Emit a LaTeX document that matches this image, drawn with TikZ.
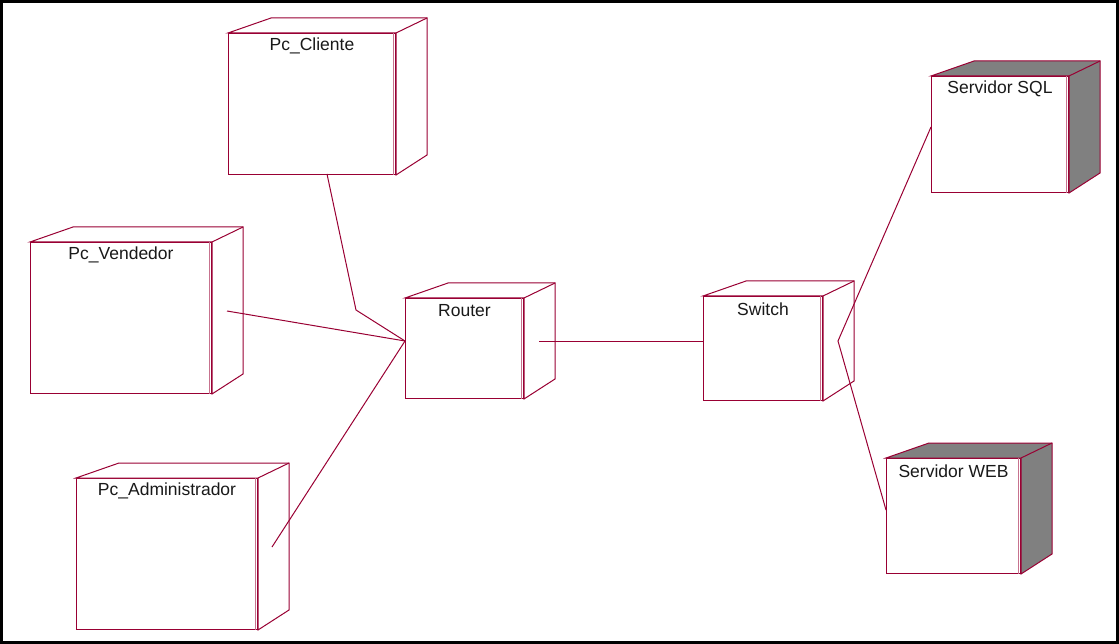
\documentclass[tikz,border=0pt]{standalone}
\usepackage{fontspec}
\setmainfont{Liberation Sans}
\usetikzlibrary{calc}

\definecolor{rose}{RGB}{153,0,51}
\definecolor{shade}{RGB}{128,128,128}

% device node: name, x, y, width, height, text, face fill
\newcommand{\devnode}[7][white]{%
  \node[dev, minimum width=#5pt, minimum height=#6pt] (#2) at (#3,#4) {};
  \filldraw[edge, fill=#1] (#2.north west) -- ++(43,-15)
      -- ($(#2.north east)+(31,-15)$) -- ($(#2.south east)+(31,-20)$)
      -- (#2.south east) -- (#2.north east) -- cycle;
  \draw[edge] (#2.north east) -- ($(#2.north east)+(31,-15)$);
  \draw[edge, draw=rose!55, line width=0.8pt] ([xshift=-2.5pt]#2.north east) -- ([xshift=-2.5pt]#2.south east);
  \node[lbl] at ([yshift=-13pt]#2.north) {#7};
}

\begin{document}
\begin{tikzpicture}[
    x=1pt, y=-1pt,
    edge/.style={draw=rose, line width=1pt, line join=miter},
    dev/.style={edge, fill=white, anchor=north west, inner sep=0pt},
    lbl/.style={font=\fontsize{17.5}{20}\selectfont, text=black!90},
    link/.style={draw=rose, line width=1pt},
]
\useasboundingbox (0,0) rectangle (1119,644);
\draw[line width=3pt] (1.5,1.5) rectangle (1117.5,642.5);

% === Clients ===
\devnode{cliente}{228}{33}{167}{141}{Pc\_Cliente}
\devnode{vendedor}{30}{242}{181}{151}{Pc\_Vendedor}
\devnode{admin}{76}{478}{181}{151}{Pc\_Administrador}

% === Network ===
\devnode{router}{405}{298}{118}{100}{Router}
\devnode{switch}{703}{296}{119}{104}{Switch}

% === Servers ===
\devnode[shade]{sql}{931}{76}{137}{116}{Servidor SQL}
\devnode[shade]{web}{886}{458}{134}{115}{Servidor WEB}

% === Links ===
\coordinate (cliente-out) at (327,174);
\coordinate (cliente-bend) at (356,310);
\coordinate (vendedor-out) at (227,311);
\coordinate (admin-out) at (272,547);
\coordinate (router-in) at (405,341);
\coordinate (router-out) at (539,341);
\coordinate (switch-in) at (703,341);
\coordinate (switch-out) at (838,341);
\coordinate (sql-in) at (931,127);
\coordinate (web-in) at (886,510);

\draw[link] (cliente-out) -- (cliente-bend) -- (router-in);
\draw[link] (vendedor-out) -- (router-in);
\draw[link] (admin-out) -- (router-in);
\draw[link] (router-out) -- (switch-in);
\draw[link] (sql-in) -- (switch-out) -- (web-in);
\end{tikzpicture}
\end{document}
